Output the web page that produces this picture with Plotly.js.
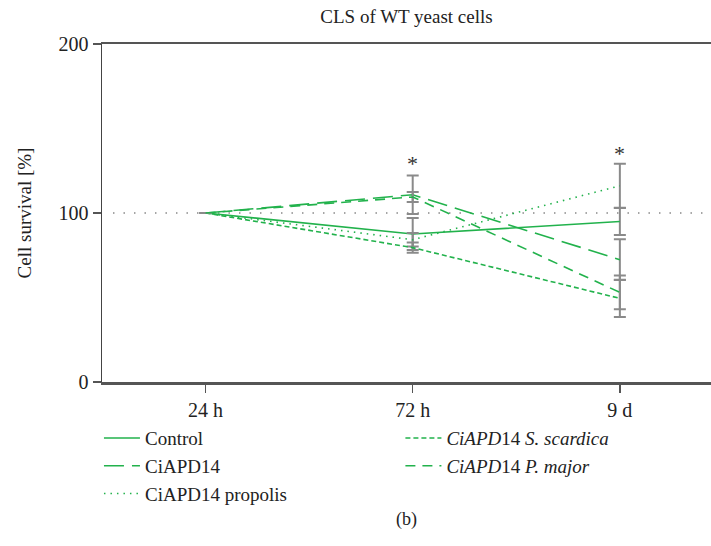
<!DOCTYPE html>
<html>
<head>
<meta charset="utf-8">
<script src="https://cdn.plot.ly/plotly-3.0.1.min.js"></script>
<style>html,body{margin:0;padding:0;background:#fff;}#chart{width:711px;height:546px;}</style>
</head>
<body>
<div id="chart"></div>
<script>
// Data
const timeLabels = ["24 h", "72 h", "9 d"];
const timePos = [0, 1, 2];
const control = [100, 87.6, 95];
const controlErr = [0, 9.5, 8];
const ciapd14 = [100, 110.8, 72.4];
const ciapd14Err = [0, 11.4, 12];
const propolis = [100, 84.2, 116.1];
const propolisErr = [0, 4, 13];
const scardica = [100, 79.5, 49.5];
const scardicaErr = [0, 3, 11];
const pmajor = [100, 109.5, 53];
const pmajorErr = [0, 3, 10];
const sigLabels = ["*", "*"];
const sigX = [1, 2];
const sigY = [129, 135.5];

const green = "#22b24c";
const errStyle = (arr) => ({type: "data", array: arr, visible: true, color: "#8a8a8a", thickness: 2, width: 6});

const traces = [
  {x: timePos, y: control, name: "Control", mode: "lines", legend: "legend",
   line: {color: green, width: 1.6}, error_y: errStyle(controlErr)},
  {x: timePos, y: ciapd14, name: "CiAPD14", mode: "lines", legend: "legend",
   line: {color: green, width: 1.6, dash: "20px,8px"}, error_y: errStyle(ciapd14Err)},
  {x: timePos, y: propolis, name: "CiAPD14 propolis", mode: "lines", legend: "legend",
   line: {color: green, width: 1.6, dash: "1.5px,5px"}, error_y: errStyle(propolisErr)},
  {x: timePos, y: scardica, name: "<i>CiAPD</i>14 <i>S. scardica</i>", mode: "lines", legend: "legend2",
   line: {color: green, width: 1.6, dash: "5px,3px"}, error_y: errStyle(scardicaErr)},
  {x: timePos, y: pmajor, name: "<i>CiAPD</i>14 <i>P. major</i>", mode: "lines", legend: "legend2",
   line: {color: green, width: 1.6, dash: "10px,7px"}, error_y: errStyle(pmajorErr)}
];

const serif = "Liberation Serif, Times New Roman, serif";
const annotations = sigX.map((x, i) => ({
  x: x, y: sigY[i], text: sigLabels[i], showarrow: false, xref: "x", yref: "y",
  font: {family: serif, size: 22, color: "#333"}
}));
annotations.push({x: 0.5, y: -0.445, xref: "paper", yref: "paper", text: "(b)", showarrow: false,
  font: {family: serif, size: 18, color: "#222"}});

const layout = {
  width: 711, height: 546,
  margin: {l: 102, r: 0, t: 44, b: 164},
  paper_bgcolor: "#fff", plot_bgcolor: "#fff",
  font: {family: serif, size: 20, color: "#222"},
  title: {text: "CLS of WT yeast cells", x: 0.5, xanchor: "center", xref: "paper", y: 0.97, yanchor: "middle",
          font: {family: serif, size: 19, color: "#222"}},
  xaxis: {
    range: [-0.5, 2.44], tickvals: timePos, ticktext: timeLabels,
    showgrid: false, zeroline: false, showline: true, linecolor: "#555", linewidth: 2.5,
    mirror: true, ticks: "outside", ticklen: 8, tickwidth: 1.5, tickcolor: "#555",
    tickfont: {family: serif, size: 20, color: "#222"}
  },
  yaxis: {
    range: [0, 200], tickvals: [0, 100, 200],
    showgrid: false, zeroline: false, showline: true, linecolor: "#444", linewidth: 1.5,
    ticks: "outside", ticklen: 8, tickwidth: 2.5, tickcolor: "#555",
    tickfont: {family: serif, size: 20, color: "#222"},
    title: {text: "Cell survival [%]", standoff: 22, font: {family: serif, size: 19, color: "#222"}}
  },
  shapes: [{type: "line", xref: "paper", yref: "y", x0: 0.018, x1: 1, y0: 100, y1: 100,
            line: {color: "#888", width: 1.6, dash: "1.5px,9px"}, layer: "below"}],
  annotations: annotations,
  showlegend: true,
  legend: {x: -0.005, xanchor: "left", y: -0.11, yanchor: "top", orientation: "v",
           bgcolor: "rgba(0,0,0,0)", font: {family: serif, size: 19, color: "#222"},
           tracegroupgap: 0, itemwidth: 36},
  legend2: {x: 0.49, xanchor: "left", y: -0.11, yanchor: "top", orientation: "v",
           bgcolor: "rgba(0,0,0,0)", font: {family: serif, size: 19, color: "#222"},
           tracegroupgap: 0, itemwidth: 36}
};

Plotly.newPlot("chart", traces, layout, {displayModeBar: false, staticPlot: true});
</script>
</body>
</html>
